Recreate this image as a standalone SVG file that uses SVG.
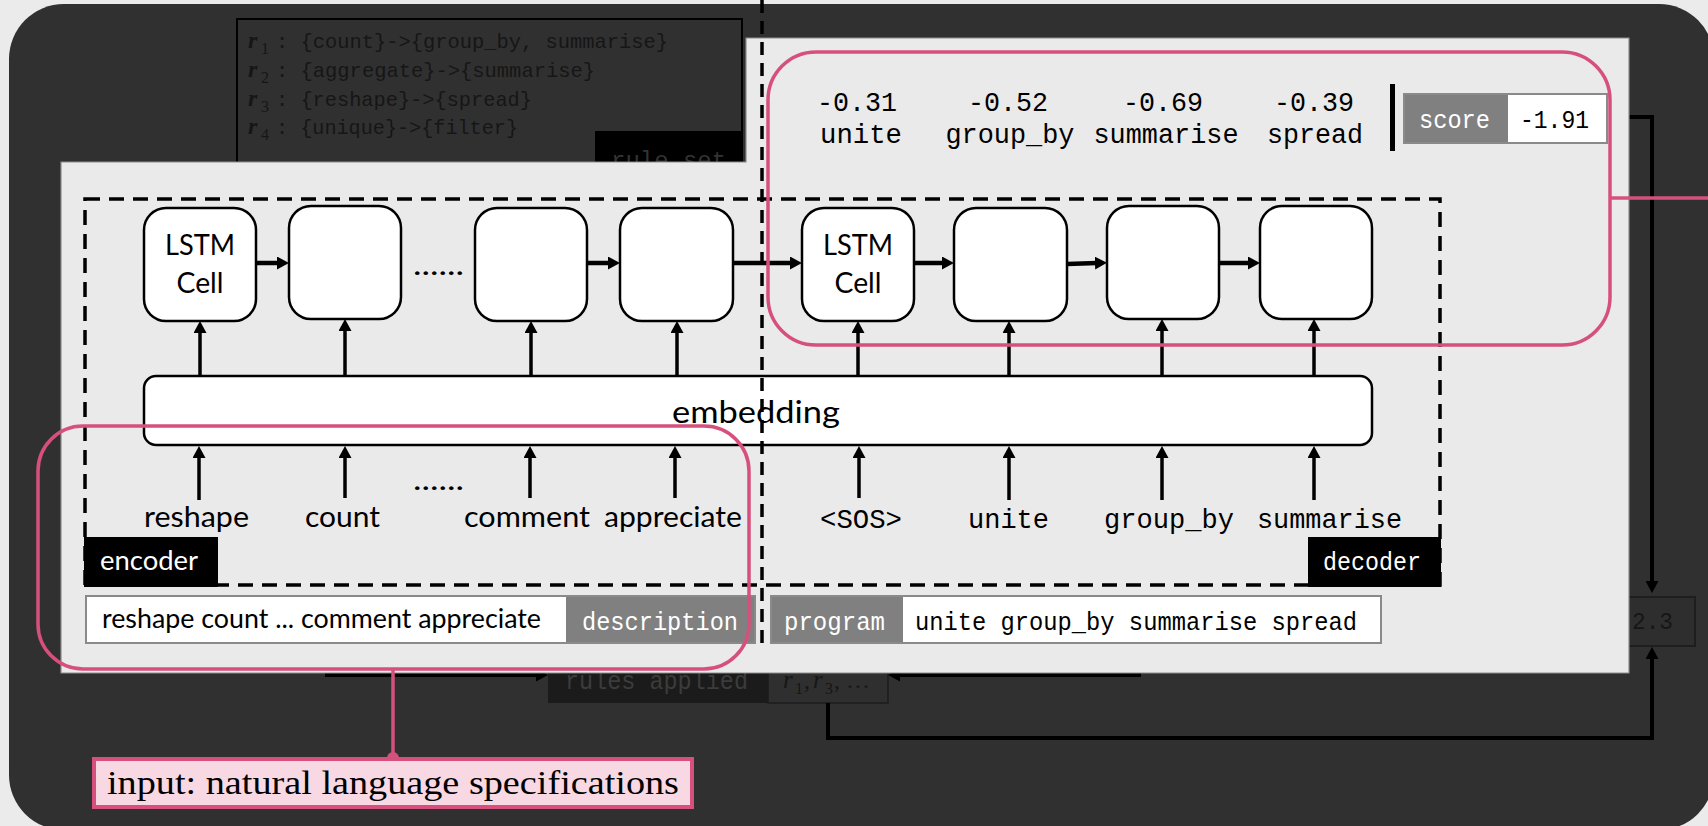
<svg xmlns="http://www.w3.org/2000/svg" width="1708" height="826" viewBox="0 0 1708 826">
  <defs>
    <style>
      .sans { font-family: Lato, "Open Sans", "Noto Sans", sans-serif; fill: #000; }
      .mono { font-family: "Liberation Mono", "DejaVu Sans Mono", monospace; fill: #000; }
      .serif { font-family: "Liberation Serif", "DejaVu Serif", serif; fill: #000; }
      .math { font-family: "Liberation Serif", "DejaVu Serif", serif; font-style: italic; }
      .cell { fill: #fff; stroke: #000; stroke-width: 2.5; }
      .conn { fill: none; stroke: #000; stroke-width: 3.5; marker-end: url(#tip); }
      .flow { fill: none; stroke: #000; stroke-width: 4.5; marker-end: url(#tip); }
      .back { fill: none; stroke: #000; stroke-width: 4; marker-end: url(#tip); }
      .pink { fill: none; stroke: #d6507d; stroke-width: 3.5; }
      .tagbox { stroke: #8a8a8a; stroke-width: 2; }
      .white { fill: #fff; }
      .dim { fill: #161616; }
    </style>
    <marker id="tip" viewBox="0 0 12 13" refX="2" refY="6.5" markerWidth="12" markerHeight="13" markerUnits="userSpaceOnUse" orient="auto">
      <path d="M0,0 L12,6.5 L0,13 z" fill="#000"/>
    </marker>
  </defs>

  <!-- page and dark backdrop -->
  <rect x="0" y="0" width="1708" height="826" fill="#ebebeb"/>
  <rect x="9" y="4" width="1705" height="826" rx="55" fill="#303030"/>

  <!-- rule set (dimmed) -->
  <g id="rule-set">
    <rect x="237" y="19" width="505" height="160" fill="#303030" stroke="#000" stroke-width="2"/>
    <g class="dim">
      <text x="248" y="48" class="math dim" font-size="24" font-weight="bold">r</text>
      <text x="261" y="54" class="serif dim" font-size="16">1</text>
      <text x="276" y="48" class="mono dim" font-size="21" textLength="392" lengthAdjust="spacingAndGlyphs">: {count}-&gt;{group_by, summarise}</text>
      <text x="248" y="77" class="math dim" font-size="24" font-weight="bold">r</text>
      <text x="261" y="83" class="serif dim" font-size="16">2</text>
      <text x="276" y="77" class="mono dim" font-size="21" textLength="319" lengthAdjust="spacingAndGlyphs">: {aggregate}-&gt;{summarise}</text>
      <text x="248" y="106" class="math dim" font-size="24" font-weight="bold">r</text>
      <text x="261" y="112" class="serif dim" font-size="16">3</text>
      <text x="276" y="106" class="mono dim" font-size="21" textLength="256" lengthAdjust="spacingAndGlyphs">: {reshape}-&gt;{spread}</text>
      <text x="248" y="134" class="math dim" font-size="24" font-weight="bold">r</text>
      <text x="261" y="140" class="serif dim" font-size="16">4</text>
      <text x="276" y="134" class="mono dim" font-size="21" textLength="242" lengthAdjust="spacingAndGlyphs">: {unique}-&gt;{filter}</text>
    </g>
    <rect x="595" y="131" width="147" height="40" fill="#000"/>
    <text x="611" y="168" class="mono" font-size="24" style="fill:#333" textLength="115" lengthAdjust="spacingAndGlyphs">rule set</text>
  </g>

  <!-- rules applied (dimmed) -->
  <g id="rules-applied">
    <rect x="548" y="665" width="220" height="38" fill="#1b1b1b"/>
    <text x="565" y="689" class="mono" font-size="25" style="fill:#3c3c3c" textLength="183" lengthAdjust="spacingAndGlyphs">rules applied</text>
    <rect x="768" y="665" width="120" height="38" fill="#2f2f2f" stroke="#1c1c1c" stroke-width="1.5"/>
    <text y="688" class="math dim" font-size="25"><tspan x="783">r</tspan></text>
    <text x="795" y="694" class="serif dim" font-size="16">1</text>
    <text x="804" y="688" class="serif dim" font-size="24">,</text>
    <text y="688" class="math dim" font-size="25"><tspan x="813">r</tspan></text>
    <text x="825" y="694" class="serif dim" font-size="16">3</text>
    <text x="834" y="688" class="serif dim" font-size="24">, …</text>
  </g>

  <!-- total score (dimmed) -->
  <g id="total-score">
    <rect x="1610" y="597" width="85" height="49" fill="#2e2e2e" stroke="#1e1e1e" stroke-width="2"/>
    <text x="1632" y="629" class="mono dim" font-size="24" textLength="41" lengthAdjust="spacingAndGlyphs">2.3</text>
  </g>

  <!-- connectors running behind the main panel -->
  <g id="back-connectors">
    <line class="back" x1="325" y1="675" x2="538" y2="675"/>
    <line class="back" x1="1141" y1="675" x2="898" y2="675"/>
    <path class="back" d="M1600 117 H1652 V583"/>
    <path class="back" d="M828 703 V738 H1652 V657"/>
  </g>

  <!-- main panel -->
  <path id="panel" d="M61 162 H746 V38 H1629 V673 H61 Z" fill="#eaeaea" stroke="#8c8c8c" stroke-width="1.2"/>

  <!-- encoder / decoder frame -->
  <rect id="seq2seq-frame" x="85" y="199" width="1355" height="386" fill="none" stroke="#000" stroke-width="3.5" stroke-dasharray="15 9"/>

  <!-- encoder cells -->
  <g id="enc-cell-1">
    <rect class="cell" x="144" y="208" width="112" height="113" rx="22"/>
    <text x="200" y="255" class="sans" font-size="28" text-anchor="middle" textLength="70" lengthAdjust="spacingAndGlyphs">LSTM</text>
    <text x="200" y="293" class="sans" font-size="28" text-anchor="middle" textLength="47" lengthAdjust="spacingAndGlyphs">Cell</text>
  </g>
  <g id="enc-cell-2"><rect class="cell" x="289" y="206" width="112" height="113" rx="22"/></g>
  <g id="enc-cell-3"><rect class="cell" x="475" y="208" width="112" height="113" rx="22"/></g>
  <g id="enc-cell-4"><rect class="cell" x="620" y="208" width="113" height="113" rx="22"/></g>

  <!-- decoder cells -->
  <g id="dec-cell-1">
    <rect class="cell" x="802" y="208" width="112" height="113" rx="22"/>
    <text x="858" y="255" class="sans" font-size="28" text-anchor="middle" textLength="70" lengthAdjust="spacingAndGlyphs">LSTM</text>
    <text x="858" y="293" class="sans" font-size="28" text-anchor="middle" textLength="47" lengthAdjust="spacingAndGlyphs">Cell</text>
  </g>
  <g id="dec-cell-2"><rect class="cell" x="954" y="208" width="113" height="113" rx="22"/></g>
  <g id="dec-cell-3"><rect class="cell" x="1107" y="206" width="112" height="113" rx="22"/></g>
  <g id="dec-cell-4"><rect class="cell" x="1260" y="206" width="112" height="113" rx="22"/></g>

  <text x="413" y="275" class="sans" font-size="28" textLength="51" lengthAdjust="spacingAndGlyphs">......</text>

  <!-- embedding layer -->
  <g id="embedding">
    <rect class="cell" x="144" y="376" width="1228" height="69" rx="12"/>
    <text x="672" y="423" class="sans" font-size="31" textLength="168" lengthAdjust="spacingAndGlyphs">embedding</text>
  </g>

  <!-- encoder inputs -->
  <g id="enc-inputs">
    <text x="144" y="527" class="sans" font-size="29" textLength="105" lengthAdjust="spacingAndGlyphs">reshape</text>
    <text x="305" y="527" class="sans" font-size="29" textLength="75" lengthAdjust="spacingAndGlyphs">count</text>
    <text x="413" y="490" class="sans" font-size="28" textLength="51" lengthAdjust="spacingAndGlyphs">......</text>
    <text x="464" y="527" class="sans" font-size="29" textLength="126" lengthAdjust="spacingAndGlyphs">comment</text>
    <text x="604" y="527" class="sans" font-size="29" textLength="138" lengthAdjust="spacingAndGlyphs">appreciate</text>
  </g>

  <!-- decoder inputs -->
  <g id="dec-inputs">
    <text x="820" y="528" class="mono" font-size="28" textLength="82" lengthAdjust="spacingAndGlyphs">&lt;SOS&gt;</text>
    <text x="968" y="528" class="mono" font-size="28" textLength="81" lengthAdjust="spacingAndGlyphs">unite</text>
    <text x="1104" y="528" class="mono" font-size="28" textLength="130" lengthAdjust="spacingAndGlyphs">group_by</text>
    <text x="1257" y="528" class="mono" font-size="28" textLength="145" lengthAdjust="spacingAndGlyphs">summarise</text>
  </g>

  <!-- connectors inside the network -->
  <g id="connectors">
    <line class="flow" x1="256" y1="263" x2="279" y2="263"/>
    <line class="flow" x1="587" y1="263" x2="610" y2="263"/>
    <line class="flow" x1="733" y1="263" x2="792" y2="263"/>
    <line class="flow" x1="914" y1="263" x2="944" y2="263"/>
    <line class="flow" x1="1067" y1="264" x2="1097" y2="263"/>
    <line class="flow" x1="1219" y1="263" x2="1250" y2="263"/>

    <line class="conn" x1="200" y1="376" x2="200" y2="331"/>
    <line class="conn" x1="345" y1="376" x2="345" y2="329"/>
    <line class="conn" x1="531" y1="376" x2="531" y2="331"/>
    <line class="conn" x1="677" y1="376" x2="677" y2="331"/>
    <line class="conn" x1="858" y1="376" x2="858" y2="331"/>
    <line class="conn" x1="1009" y1="376" x2="1009" y2="331"/>
    <line class="conn" x1="1162" y1="376" x2="1162" y2="329"/>
    <line class="conn" x1="1314" y1="376" x2="1314" y2="329"/>

    <line class="conn" x1="199" y1="500" x2="199" y2="456"/>
    <line class="conn" x1="345" y1="498" x2="345" y2="456"/>
    <line class="conn" x1="530" y1="498" x2="530" y2="456"/>
    <line class="conn" x1="675" y1="498" x2="675" y2="456"/>
    <line class="conn" x1="859" y1="498" x2="859" y2="456"/>
    <line class="conn" x1="1009" y1="500" x2="1009" y2="456"/>
    <line class="conn" x1="1162" y1="500" x2="1162" y2="456"/>
    <line class="conn" x1="1314" y1="500" x2="1314" y2="456"/>
  </g>

  <!-- frame labels -->
  <g id="encoder-label">
    <rect x="84" y="537" width="134" height="50" fill="#000"/>
    <text x="100" y="570" class="sans" font-size="26" style="fill:#fff" textLength="98" lengthAdjust="spacingAndGlyphs">encoder</text>
  </g>
  <g id="decoder-label">
    <rect x="1308" y="537" width="133" height="50" fill="#000"/>
    <text x="1323" y="570" class="mono" font-size="25" style="fill:#fff" textLength="98" lengthAdjust="spacingAndGlyphs">decoder</text>
  </g>

  <!-- description field -->
  <g id="description">
    <rect class="tagbox" x="86" y="596" width="669" height="47" fill="#fff"/>
    <rect x="566" y="597" width="188" height="45" fill="#808080"/>
    <text x="102" y="628" class="sans" font-size="26" textLength="439" lengthAdjust="spacingAndGlyphs">reshape count ... comment appreciate</text>
    <text x="582" y="630" class="mono" font-size="25" style="fill:#fff" textLength="156" lengthAdjust="spacingAndGlyphs">description</text>
  </g>

  <!-- program field -->
  <g id="program">
    <rect class="tagbox" x="771" y="596" width="610" height="47" fill="#fff"/>
    <rect x="772" y="597" width="131" height="45" fill="#808080"/>
    <text x="784" y="630" class="mono" font-size="25" style="fill:#fff" textLength="101" lengthAdjust="spacingAndGlyphs">program</text>
    <text x="915" y="630" class="mono" font-size="25" textLength="442" lengthAdjust="spacingAndGlyphs">unite group_by summarise spread</text>
  </g>

  <!-- token log-probabilities and score -->
  <g id="token-scores">
    <text x="857" y="111" class="mono" font-size="27" text-anchor="middle" textLength="80" lengthAdjust="spacingAndGlyphs">-0.31</text>
    <text x="1008" y="111" class="mono" font-size="27" text-anchor="middle" textLength="80" lengthAdjust="spacingAndGlyphs">-0.52</text>
    <text x="1163" y="111" class="mono" font-size="27" text-anchor="middle" textLength="80" lengthAdjust="spacingAndGlyphs">-0.69</text>
    <text x="1314" y="111" class="mono" font-size="27" text-anchor="middle" textLength="80" lengthAdjust="spacingAndGlyphs">-0.39</text>
    <text x="861" y="143" class="mono" font-size="27" text-anchor="middle" textLength="82" lengthAdjust="spacingAndGlyphs">unite</text>
    <text x="1010" y="143" class="mono" font-size="27" text-anchor="middle" textLength="129" lengthAdjust="spacingAndGlyphs">group_by</text>
    <text x="1166" y="143" class="mono" font-size="27" text-anchor="middle" textLength="145" lengthAdjust="spacingAndGlyphs">summarise</text>
    <text x="1315" y="143" class="mono" font-size="27" text-anchor="middle" textLength="96" lengthAdjust="spacingAndGlyphs">spread</text>
    <rect x="1390" y="84" width="5" height="67" fill="#000"/>
  </g>
  <g id="score">
    <rect class="tagbox" x="1404" y="94" width="203" height="49" fill="#fff"/>
    <rect x="1405" y="95" width="103" height="47" fill="#808080"/>
    <text x="1419" y="128" class="mono" font-size="26" style="fill:#fff" textLength="71" lengthAdjust="spacingAndGlyphs">score</text>
    <text x="1520" y="128" class="mono" font-size="26" textLength="69" lengthAdjust="spacingAndGlyphs">-1.91</text>
  </g>

  <!-- encoder / decoder split -->
  <line id="split" x1="762" y1="0" x2="762" y2="645" stroke="#000" stroke-width="3.5" stroke-dasharray="13 8"/>

  <!-- highlights and callout -->
  <g id="decoder-highlight">
    <rect class="pink" x="768" y="52" width="842" height="293" rx="48"/>
    <line class="pink" x1="1610" y1="198" x2="1708" y2="198"/>
  </g>
  <g id="input-highlight">
    <rect class="pink" x="38" y="426" width="711" height="243" rx="45"/>
    <line class="pink" x1="393" y1="669" x2="393" y2="758"/>
    <circle cx="393" cy="758" r="6" fill="#d6507d"/>
  </g>
  <g id="input-callout">
    <rect x="94" y="759" width="598" height="48" fill="#f8d8e3" stroke="#d6507d" stroke-width="4"/>
    <text x="107" y="794" class="serif" font-size="34" textLength="572" lengthAdjust="spacingAndGlyphs">input: natural language specifications</text>
  </g>
</svg>
